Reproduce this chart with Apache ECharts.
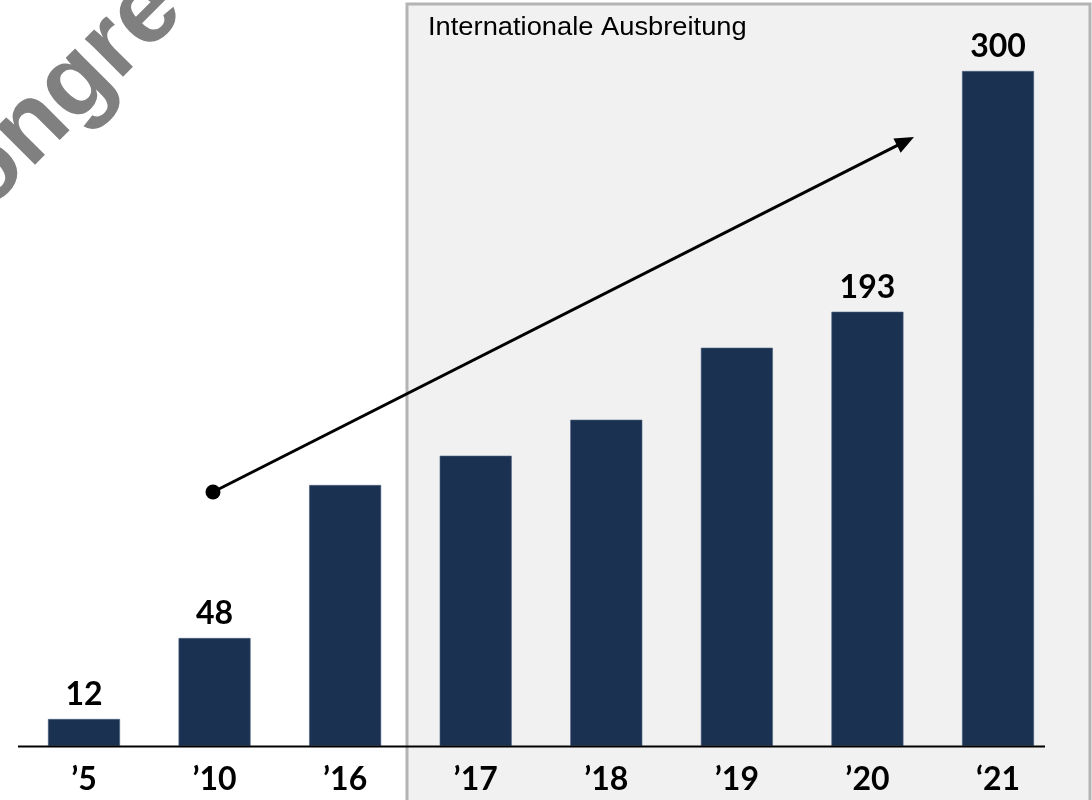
<!DOCTYPE html>
<html>
<head>
<meta charset="utf-8">
<script src="https://cdn.jsdelivr.net/npm/echarts@6/dist/echarts.min.js"></script>
<style>
html,body{margin:0;padding:0;background:#fff;}
#chart{width:1092px;height:800px;}
</style>
</head>
<body>
<div id="chart"></div>
<script>
// Data
var categories = ['\u20195', '\u201910', '\u201916', '\u201917', '\u201918', '\u201919', '\u201920', '\u201821'];
var values = [12, 48, 116, 129, 145, 177, 193, 300];
var valueLabels = ['12', '48', '', '', '', '', '193', '300'];
var boxTitle = 'Internationale Ausbreitung';
var watermarkText = 'ongre';

var chart = echarts.init(document.getElementById('chart'));

var gridLeft = 18.7, gridRight = 1092 - 1063.3, gridTop = 71, gridBottom = 54;

// arrow geometry (annotation)
var p0 = [213, 492], p1 = [914, 137];
var dx = p1[0] - p0[0], dy = p1[1] - p0[1];
var len = Math.sqrt(dx * dx + dy * dy);
var ux = dx / len, uy = dy / len;
var headLen = 19, headHalf = 8;
var baseX = p1[0] - ux * headLen, baseY = p1[1] - uy * headLen;
var arrowHead = [
  [p1[0], p1[1]],
  [baseX - uy * headHalf, baseY + ux * headHalf],
  [baseX + uy * headHalf, baseY - ux * headHalf]
];

var option = {
  backgroundColor: '#ffffff',
  animation: false,
  grid: { left: gridLeft, right: gridRight, top: gridTop, bottom: gridBottom, containLabel: false },
  xAxis: {
    type: 'category',
    data: categories,
    axisLine: { show: false },
    axisTick: { show: false },
    axisLabel: {
      margin: 18,
      color: '#000',
      fontFamily: 'Lato',
      fontWeight: 'bold',
      fontSize: 32
    }
  },
  yAxis: {
    type: 'value',
    min: 0,
    max: 300,
    show: false,
    splitLine: { show: false }
  },
  graphic: [
    {
      type: 'rect',
      z: -10,
      silent: true,
      shape: { x: 407, y: 4, width: 683, height: 820 },
      style: { fill: '#f1f1f1', stroke: '#b4b4b4', lineWidth: 3 }
    },
    {
      type: 'text',
      z: 10,
      silent: true,
      x: 428,
      y: 15,
      scaleX: 1.05,
      style: {
        text: boxTitle,
        fill: '#000',
        font: '26px "Liberation Sans", Arial, sans-serif'
      }
    },
    {
      type: 'line',
      z: 10,
      silent: true,
      shape: { x1: 18, y1: 746.5, x2: 1045, y2: 746.5 },
      style: { stroke: '#000', lineWidth: 2 }
    },
    {
      type: 'line',
      z: 10,
      silent: true,
      shape: { x1: p0[0], y1: p0[1], x2: baseX + ux * 2, y2: baseY + uy * 2 },
      style: { stroke: '#000', lineWidth: 3 }
    },
    {
      type: 'circle',
      z: 10,
      silent: true,
      shape: { cx: p0[0], cy: p0[1], r: 7.5 },
      style: { fill: '#000' }
    },
    {
      type: 'polygon',
      z: 10,
      silent: true,
      shape: { points: arrowHead },
      style: { fill: '#000' }
    },
    {
      type: 'text',
      z: 5,
      silent: true,
      x: 2,
      y: 230,
      rotation: Math.PI / 4,
      style: {
        text: watermarkText,
        fill: '#808080',
        font: 'bold 102px "Liberation Sans", Arial, sans-serif',
        textAlign: 'left',
        textVerticalAlign: 'bottom'
      }
    }
  ],
  series: [
    {
      type: 'bar',
      data: values,
      barWidth: 72,
      itemStyle: { color: '#1b3152', borderColor: '#4a5f80', borderWidth: 0.6 },
      label: {
        show: true,
        position: 'top',
        distance: 8,
        color: '#000',
        fontFamily: 'Lato',
        fontWeight: 'bold',
        fontSize: 32,
        formatter: function (p) { return valueLabels[p.dataIndex]; }
      }
    }
  ]
};
chart.setOption(option);
</script>
</body>
</html>
